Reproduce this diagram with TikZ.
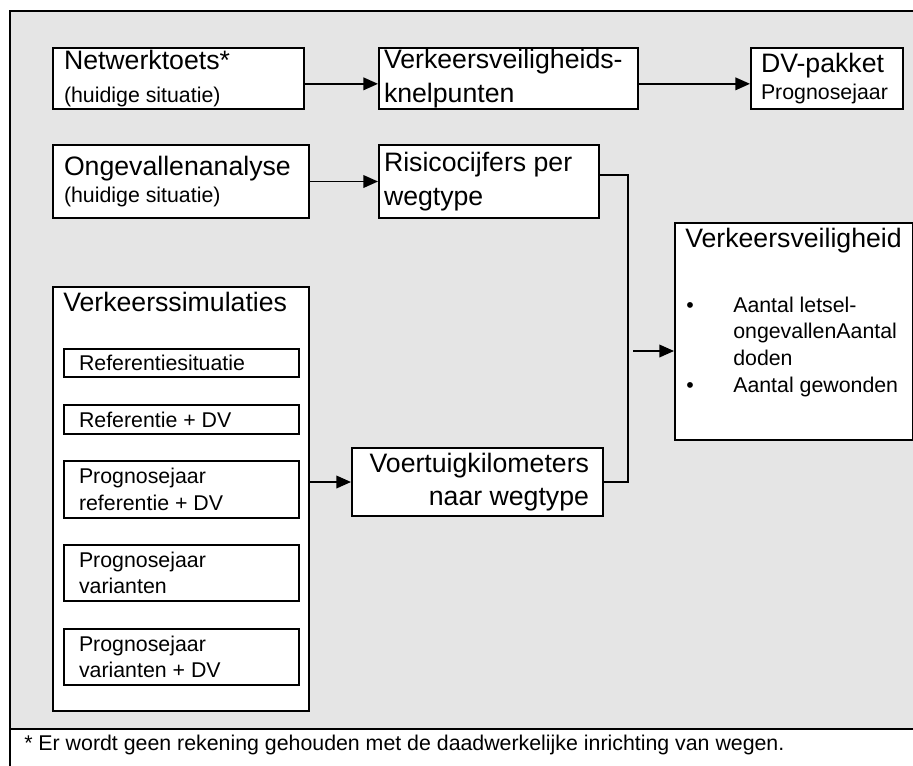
\documentclass[tikz,border=0pt]{standalone}
\usepackage{fontspec}
\setmainfont{Liberation Sans}
\usetikzlibrary{arrows.meta,positioning}

\tikzset{
  box/.style={draw,line width=1.5pt,fill=white,anchor=north west,inner ysep=0pt,align=flush left},
  bigtxt/.style={font=\fontsize{20}{25}\selectfont},
  smalltxt/.style={font=\fontsize{16}{20}\selectfont},
  subbox/.style={box,smalltxt,minimum width=176.25pt,inner xsep=11.25pt,text width=153.75pt},
  line/.style={line width=1.2pt},
  flow/.style={line width=1.2pt,-{Triangle[length=11pt,width=9.5pt]}},
}
\newcommand{\smtxt}{\fontsize{16}{20}\selectfont}

\begin{document}
\begin{tikzpicture}[x=0.75pt,y=-0.75pt]
\clip (0,0) rectangle (913,765);
\fill[white] (0,0) rectangle (913,765);
\fill[gray!20] (10,11) rectangle (920,729);
\draw[line width=1.5pt] (920,11) -- (10,11) -- (10,770);
\draw[line width=1.5pt] (10,729) -- (920,729);

% top rows
\node[box,bigtxt,minimum width=188.25pt,minimum height=45.75pt,inner xsep=8.25pt,text width=171.75pt] (netz) at (52,47)
  {Netwerktoets*\\{\smtxt (huidige situatie)}};
\node[box,bigtxt,minimum width=194.25pt,minimum height=45.75pt,inner xsep=3.75pt,text width=186.75pt] (knel) at (378,47)
  {Verkeersveiligheids-\\knelpunten};
\node[box,bigtxt,minimum width=114pt,minimum height=45.75pt,inner xsep=7.5pt,text width=99pt] (dvpak) at (750,47)
  {DV-pakket\\{\smtxt Prognosejaar\par}};
\node[box,bigtxt,minimum width=192pt,minimum height=54.75pt,inner xsep=8.25pt,text width=175.5pt] (ongev) at (52,144)
  {Ongevallenanalyse\\{\smtxt (huidige situatie)\par}};
\node[box,bigtxt,minimum width=165pt,minimum height=54.75pt,inner xsep=3.75pt,text width=157.5pt] (risico) at (378,144)
  {Risicocijfers per\\wegtype};

% simulaties
\node[box,minimum width=192pt,minimum height=318pt] (vsim) at (52,286) {};
\node[bigtxt,anchor=base west,inner sep=0pt] (vsimtitle) at (63,311) {Verkeerssimulaties};
\node[subbox,minimum height=21pt] (ref) at (63,348) {Referentiesituatie};
\node[subbox,minimum height=21.75pt] (refdv) at (63,404) {Referentie + DV};
\node[subbox,minimum height=42.75pt] (progref) at (63,460) {Prognosejaar\\referentie + DV};
\node[subbox,minimum height=42pt] (progvar) at (63,544) {Prognosejaar\\varianten};
\node[subbox,minimum height=42pt] (progvardv) at (63,628) {Prognosejaar\\varianten + DV};

\node[box,bigtxt,minimum width=188.25pt,minimum height=51pt,inner xsep=10.5pt,text width=167.25pt,align=flush right] (voert) at (351,447)
  {Voertuigkilometers\\naar wegtype};

% resultaat
\node[box,minimum width=178.5pt,minimum height=162.75pt] (vveil) at (674,222) {};
\node[bigtxt,anchor=base west,inner sep=0pt] (vveiltitle) at (685,247) {Verkeersveiligheid};
\node[smalltxt,anchor=base west,inner sep=0pt] (vveillist) at (686,312)
  {\begin{tabular}[t]{@{}l@{}l@{}}
   \makebox[35.25pt][l]{\textbullet} & Aantal letsel-\\
   & ongevallenAantal\\
   & doden\\
   \makebox[35.25pt][l]{\textbullet} & Aantal gewonden
   \end{tabular}};

% connectors
\draw[flow] ([yshift=-4pt]netz.east) -- ([yshift=-4pt]knel.west);
\draw[flow] ([yshift=-4pt]knel.east) -- ([yshift=-4pt]dvpak.west);
\draw[flow] (ongev.east) -- (risico.west);
\draw[flow] (vsim.east |- voert.west) -- (voert.west);
\coordinate (bus) at (628,330);
\draw[line] ([yshift=5pt]risico.east) -| (bus) |- (voert.east);
\coordinate (busout) at (633,351);
\draw[flow] (busout) -- (busout -| vveil.west);

\node[smalltxt,anchor=base west,inner sep=0pt] (note) at (24,750)
  {* Er wordt geen rekening gehouden met de daadwerkelijke inrichting van wegen.};
\end{tikzpicture}
\end{document}
